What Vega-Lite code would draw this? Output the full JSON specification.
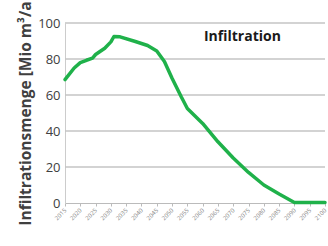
{
  "$schema": "https://vega.github.io/schema/vega-lite/v6.json",
  "autosize": "none",
  "width": 260,
  "height": 180,
  "padding": {"left": 65, "top": 23, "right": 3, "bottom": 43},
  "background": "white",
  "config": {"view": {"stroke": null, "fill": null}, "font": "Open Sans"},
  "encoding": {
    "y": {"field": "v", "type": "quantitative",
      "scale": {"domain": [0, 100], "nice": false},
      "axis": {"title": "Infiltrationsmenge  [Mio m³/a", "labelFontSize": 13, "labelColor": "#404040", "labelOverlap": false,
        "labelPadding": 5, "ticks": false, "domain": true, "domainColor": "#cccccc", "grid": false,
        "values": [0,20,40,60,80,100],
        "titleFontSize": 15.5, "titleFontWeight": "bold", "titleColor": "#404040", "titlePadding": 4}}
  },
  "layer": [
    {
      "data": {"values": [{"v": 20}, {"v": 40}, {"v": 60}, {"v": 80}, {"v": 100}]},
      "mark": {"type": "rule", "color": "#c4c4c4", "strokeWidth": 1.3},
      "encoding": {}
    },
    {
      "data": {"values": [
        {"year": 2015, "v": 68.5}, {"year": 2018, "v": 75}, {"year": 2020, "v": 78},
        {"year": 2022, "v": 79.3}, {"year": 2024, "v": 80.5}, {"year": 2025, "v": 82.5},
        {"year": 2028, "v": 86}, {"year": 2030, "v": 89.5}, {"year": 2031, "v": 92.5},
        {"year": 2033, "v": 92.3}, {"year": 2038, "v": 89.7}, {"year": 2042, "v": 87.5},
        {"year": 2045, "v": 84.5}, {"year": 2047.5, "v": 78.6}, {"year": 2050, "v": 69.3},
        {"year": 2053, "v": 59}, {"year": 2055, "v": 52.5}, {"year": 2060, "v": 44.2},
        {"year": 2065, "v": 34}, {"year": 2070, "v": 25}, {"year": 2075, "v": 17},
        {"year": 2080, "v": 10}, {"year": 2085, "v": 5}, {"year": 2090, "v": 0.3},
        {"year": 2095, "v": 0.3}, {"year": 2100, "v": 0.3}
      ]},
      "mark": {"type": "line", "color": "#1fb14a", "strokeWidth": 3.5, "strokeCap": "round", "strokeJoin": "round"},
      "encoding": {
        "x": {"field": "year", "type": "quantitative",
          "scale": {"domain": [2015, 2100], "nice": false, "zero": false},
          "axis": {"title": null, "labelAngle": -45, "labelAlign": "right", "labelBaseline": "middle", "labelOverlap": false,
            "labelFontSize": 6, "labelColor": "#888888", "labelPadding": 3, "labelDx": -1, "format": "d",
            "grid": false, "domainColor": "#bbbbbb", "tickColor": "#bbbbbb", "tickSize": 3,
            "values": [2015,2020,2025,2030,2035,2040,2045,2050,2055,2060,2065,2070,2075,2080,2085,2090,2095,2100]}}
      }
    },
    {
      "data": {"values": [{"label": "Infiltration", "year": 2073, "v": 92}]},
      "mark": {"type": "text", "fontSize": 14, "fontWeight": "bold", "color": "#1a1a1a", "align": "center", "baseline": "middle"},
      "encoding": {
        "text": {"field": "label"},
        "x": {"field": "year", "type": "quantitative",
          "scale": {"domain": [2015, 2100], "nice": false, "zero": false},
          "axis": {"title": null, "labelAngle": -45, "labelAlign": "right", "labelBaseline": "middle", "labelOverlap": false,
            "labelFontSize": 6, "labelColor": "#888888", "labelPadding": 3, "labelDx": -1, "format": "d",
            "grid": false, "domainColor": "#bbbbbb", "tickColor": "#bbbbbb", "tickSize": 3,
            "values": [2015,2020,2025,2030,2035,2040,2045,2050,2055,2060,2065,2070,2075,2080,2085,2090,2095,2100]}}
      }
    }
  ]
}
